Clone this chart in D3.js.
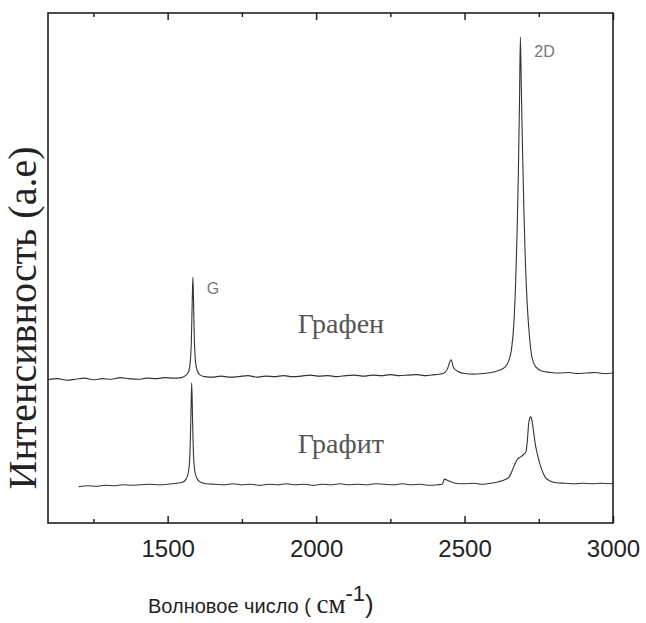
<!DOCTYPE html>
<html>
<head>
<meta charset="utf-8">
<script src="https://cdn.jsdelivr.net/npm/d3@7"></script>
<style>
  body { margin: 0; background: #fff; }
  svg { display: block; }
</style>
</head>
<body>
<svg id="chart" width="646" height="623"></svg>
<script>
// Raman spectra (intensity in arbitrary units)
const grapheneWave = [1097, 1130, 1160, 1190, 1220, 1250, 1280, 1310, 1340, 1370, 1400, 1430, 1460, 1490, 1520,
  1545, 1560, 1570, 1576, 1580, 1583, 1585, 1587, 1590, 1594, 1600, 1610, 1625, 1650, 1680, 1710, 1740, 1770,
  1800, 1830, 1860, 1890, 1920, 1950, 1980, 2010, 2040, 2070, 2100, 2130, 2160, 2190, 2220, 2250, 2280, 2310,
  2340, 2370, 2400, 2420, 2435, 2445, 2450, 2455, 2462, 2475, 2500, 2530, 2560, 2590, 2615, 2635, 2648, 2658,
  2666, 2672, 2677, 2681, 2685, 2688, 2691, 2695, 2700, 2705, 2711, 2718, 2727, 2740, 2760, 2790, 2820, 2850,
  2880, 2910, 2940, 2970, 3000];
const grapheneInt = [28.1, 28.3, 28.0, 28.2, 28.4, 28.1, 28.3, 28.2, 28.5, 28.3, 28.2, 28.4, 28.3, 28.5, 28.4,
  28.5, 28.9, 29.6, 31.5, 36.0, 44.0, 48.2, 44.0, 36.0, 31.5, 29.8, 29.0, 28.7, 28.6, 28.8, 28.6, 28.7, 28.9,
  28.6, 28.8, 28.7, 28.9, 28.7, 28.8, 29.0, 28.8, 28.9, 28.7, 28.9, 29.0, 28.8, 29.0, 28.9, 29.1, 28.9, 29.0,
  29.1, 28.9, 29.1, 29.2, 29.6, 30.6, 31.6, 32.0, 30.6, 29.8, 29.3, 29.2, 29.3, 29.5, 29.9, 30.5, 31.7, 34.0,
  39.0, 47.0, 57.0, 68.0, 82.0, 95.3, 86.0, 74.0, 61.0, 51.0, 43.0, 37.0, 32.5, 30.6, 29.8, 29.5, 29.4, 29.5,
  29.3, 29.4, 29.5, 29.3, 29.4];

const graphiteWave = [1200, 1230, 1260, 1290, 1320, 1350, 1380, 1410, 1440, 1470, 1500, 1530, 1550, 1562, 1570,
  1575, 1578, 1581, 1584, 1587, 1592, 1600, 1612, 1630, 1660, 1690, 1720, 1750, 1780, 1810, 1840, 1870, 1900,
  1930, 1960, 1990, 2020, 2050, 2080, 2110, 2140, 2170, 2200, 2230, 2260, 2290, 2320, 2350, 2380, 2410, 2425,
  2432, 2445, 2470, 2500, 2530, 2560, 2590, 2615, 2635, 2650, 2660, 2667, 2677, 2690, 2700, 2707, 2712, 2716,
  2720, 2723, 2726, 2730, 2735, 2740, 2748, 2757, 2766, 2774, 2790, 2810, 2840, 2870, 2900, 2930, 2960, 3000];
const graphiteInt = [7.1, 7.3, 7.2, 7.4, 7.3, 7.5, 7.4, 7.5, 7.6, 7.5, 7.6, 7.8, 8.0, 8.6, 10.0,
  13.5, 20.0, 27.5, 20.0, 13.5, 10.0, 8.6, 8.0, 7.7, 7.6, 7.5, 7.7, 7.5, 7.6, 7.4, 7.6, 7.5, 7.7,
  7.5, 7.6, 7.4, 7.6, 7.5, 7.7, 7.5, 7.6, 7.5, 7.7, 7.6, 7.5, 7.7, 7.5, 7.6, 7.4, 7.5, 7.6,
  8.6, 8.3, 7.8, 7.7, 7.8, 7.6, 7.8, 8.1, 8.5, 9.0, 10.2, 11.2, 12.4, 13.0, 13.5, 14.0, 16.5, 19.5,
  20.6, 20.8, 20.4, 19.0, 16.8, 14.9, 12.8, 11.0, 9.6, 8.8, 8.2, 7.9, 7.8, 7.7, 7.8, 7.7, 7.8, 7.7];

const majorTicks = [1500, 2000, 2500, 3000];
const minorTicks = [1250, 1750, 2250, 2750];

const peakLabels = [
  { text: "G", wave: 1632, value: 44.9 },
  { text: "2D", wave: 2735, value: 91.4 }
];
const sampleLabels = [
  { text: "Графен", wave: 1938, value: 37.3 },
  { text: "Графит", wave: 1938, value: 13.7 }
];

const width = 646, height = 623;
const margin = { top: 13, right: 33, bottom: 100, left: 48 };
const innerW = width - margin.left - margin.right;
const innerH = height - margin.top - margin.bottom;

const svg = d3.select("#chart");
const g = svg.append("g").attr("transform", `translate(${margin.left},${margin.top})`);

const x = d3.scaleLinear().domain([1097, 3000]).range([0, innerW]);
const y = d3.scaleLinear().domain([0, 100]).range([innerH, 0]);

const line = d3.line()
  .x(d => x(d[0]))
  .y(d => y(d[1]))
  .curve(d3.curveMonotoneX);

const series = [
  d3.zip(grapheneWave, grapheneInt),
  d3.zip(graphiteWave, graphiteInt)
];

g.selectAll("path.spectrum")
  .data(series)
  .join("path")
  .attr("class", "spectrum")
  .attr("d", line)
  .attr("fill", "none")
  .attr("stroke", "#333")
  .attr("stroke-width", 1.1);

// axes: ticks point inward on both top and bottom
function styleAxis(sel) {
  sel.select(".domain").remove();
  sel.selectAll(".tick line").attr("stroke", "#222").attr("stroke-width", 1.5);
}

g.append("g")
  .attr("transform", `translate(0,${innerH})`)
  .call(d3.axisBottom(x).tickValues(minorTicks).tickSize(-4).tickFormat(""))
  .call(styleAxis);

g.append("g")
  .attr("transform", `translate(0,${innerH})`)
  .call(d3.axisBottom(x).tickValues(majorTicks).tickSize(-7).tickPadding(17).tickFormat(d3.format("d")))
  .call(styleAxis)
  .call(a => a.selectAll("text")
    .attr("font-family", "'Liberation Sans', Arial, sans-serif")
    .attr("font-size", 24)
    .attr("fill", "#222"));

g.append("g")
  .call(d3.axisTop(x).tickValues(minorTicks).tickSize(-4).tickFormat(""))
  .call(styleAxis);

g.append("g")
  .call(d3.axisTop(x).tickValues(majorTicks).tickSize(-7).tickFormat(""))
  .call(styleAxis);

// frame
g.append("rect")
  .attr("width", innerW)
  .attr("height", innerH)
  .attr("fill", "none")
  .attr("stroke", "#222")
  .attr("stroke-width", 1.6);

// annotations
g.selectAll("text.peak")
  .data(peakLabels)
  .join("text")
  .attr("class", "peak")
  .attr("x", d => x(d.wave))
  .attr("y", d => y(d.value))
  .attr("font-family", "'Liberation Sans', Arial, sans-serif")
  .attr("font-size", 16)
  .attr("fill", "#777")
  .text(d => d.text);

g.selectAll("text.sample")
  .data(sampleLabels)
  .join("text")
  .attr("class", "sample")
  .attr("x", d => x(d.wave))
  .attr("y", d => y(d.value))
  .attr("font-family", "'Liberation Serif', 'Times New Roman', serif")
  .attr("font-size", 28)
  .attr("fill", "#555")
  .text(d => d.text);

// y title
svg.append("text")
  .attr("transform", "translate(36,318) rotate(-90)")
  .attr("text-anchor", "middle")
  .attr("font-family", "'Liberation Serif', 'Times New Roman', serif")
  .attr("font-size", 40)
  .attr("fill", "#222")
  .text("Интенсивность (а.е)");

// x title
const xt = svg.append("text")
  .attr("x", 148)
  .attr("y", 613)
  .attr("fill", "#222")
  .attr("font-family", "'Liberation Sans', Arial, sans-serif");
xt.append("tspan").attr("font-size", 20).text("Волновое число ( ");
xt.append("tspan").attr("font-family", "'Liberation Serif', serif").attr("font-size", 27).text("см");
xt.append("tspan").attr("font-size", 22).attr("dy", -12).text("-1");
xt.append("tspan").attr("font-size", 26).attr("dy", 12).text(")");
</script>
</body>
</html>
